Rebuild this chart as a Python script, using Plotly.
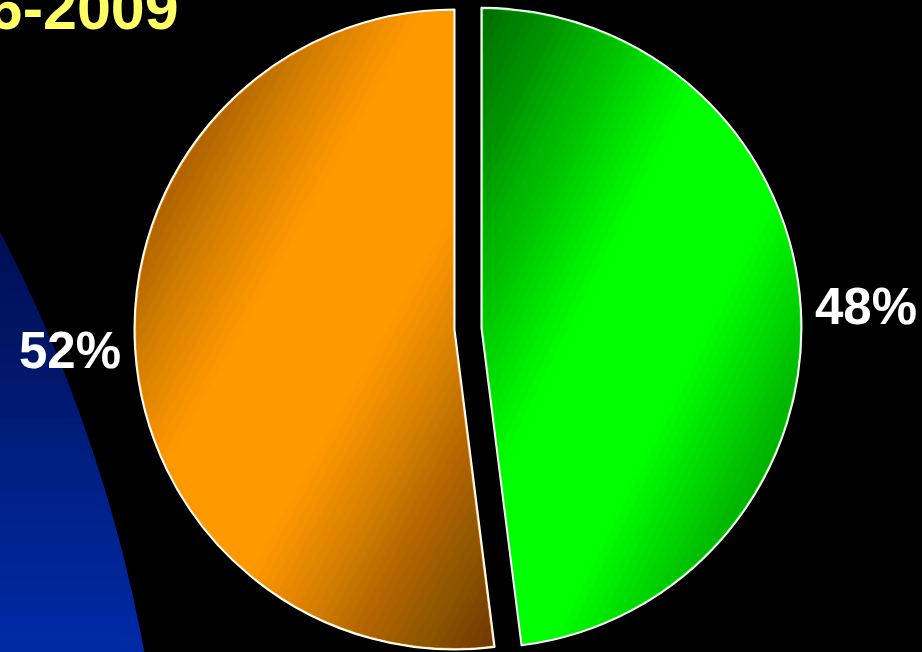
import math
import numpy as np
import plotly.graph_objects as go

# ---- data -------------------------------------------------------------
LABELS = ["Segment 1", "Segment 2"]
VALUES = [48, 52]
SLICE_COLORS = ["#00FF00", "#FF9900"]
TITLE_TEXT = "2006-2009"

# ---- canvas / geometry (pixels) --------------------------------------
W, H = 922, 652
R_PX = 320                    # pie radius
CENTER_PX = (454.5, 329.5)    # pie centre
PULL_PX = [27, 0]             # how far each slice is pulled out
EDGE_W = 2
LABEL_GAP = 13                # distance of the percentage labels from the rim
LABEL_FONT = "Liberation Sans, Arial, sans-serif"
LABEL_SIZE = 51


def to_paper(x, y):
    return x / W, 1 - y / H


def path_from(points):
    parts = []
    for i, (x, y) in enumerate(points):
        px, py = to_paper(x, y)
        parts.append(("M" if i == 0 else "L") + f"{px:.5f},{py:.5f}")
    return " ".join(parts) + " Z"


def clip(poly, fn):
    """Sutherland-Hodgman clip of a polygon against the half-plane fn >= 0."""
    out = []
    n = len(poly)
    for i in range(n):
        p, q = poly[i], poly[(i + 1) % n]
        fp, fq = fn(p), fn(q)
        if fp >= 0:
            out.append(p)
        if (fp >= 0) != (fq >= 0):
            t = fp / (fp - fq)
            out.append((p[0] + t * (q[0] - p[0]), p[1] + t * (q[1] - p[1])))
    return out


def on_circle(cx, cy, r, a_deg):
    # angle measured clockwise from 12 o'clock, screen coordinates
    a = math.radians(a_deg)
    return (cx + r * math.sin(a), cy - r * math.cos(a))


# slice angles, clockwise from 12 o'clock
total = float(sum(VALUES))
starts, ends = [], []
acc = 0.0
for v in VALUES:
    starts.append(360 * acc)
    acc += v / total
    ends.append(360 * acc)

# centre of every slice after pulling it out along its bisector
slice_centres = []
for a0, a1, pull in zip(starts, ends, PULL_PX):
    slice_centres.append(on_circle(CENTER_PX[0], CENTER_PX[1], pull, (a0 + a1) / 2))

fig = go.Figure()

# one pie trace per slice so a pulled slice keeps the full radius
for i, (cx, cy) in enumerate(slice_centres):
    colors = ["rgba(0,0,0,0)"] * len(VALUES)
    lcolors = ["rgba(0,0,0,0)"] * len(VALUES)
    lwidths = [0] * len(VALUES)
    colors[i] = SLICE_COLORS[i]
    lcolors[i] = "white"
    lwidths[i] = EDGE_W
    fig.add_trace(go.Pie(
        labels=LABELS, values=VALUES, sort=False,
        direction="clockwise", rotation=0,
        marker=dict(colors=colors, line=dict(color=lcolors, width=lwidths)),
        textinfo="none",
        domain=dict(x=[(cx - R_PX) / W, (cx + R_PX) / W],
                    y=[1 - (cy + R_PX) / H, 1 - (cy - R_PX) / H]),
        showlegend=False, hoverinfo="skip",
    ))

shapes = []
annotations = []

# percentage labels just outside the rim, on each slice's bisector
for (cx, cy), a0, a1, v in zip(slice_centres, starts, ends, VALUES):
    mid = (a0 + a1) / 2
    lx, ly = on_circle(cx, cy, R_PX + LABEL_GAP, mid)
    px, py = to_paper(lx, ly)
    annotations.append(dict(
        text=f"{v}%", xref="paper", yref="paper", x=px, y=py,
        xanchor="left" if math.sin(math.radians(mid)) > 0 else "right",
        yanchor="middle", showarrow=False, borderpad=0,
        font=dict(family=LABEL_FONT, size=LABEL_SIZE, color="white", weight="bold")))

# ---- large blue disc on the left, darker towards the top -------------
BLUE_C = (-1331.0, 923.0)
BLUE_R = 1500.0
x0, y1 = to_paper(BLUE_C[0] - BLUE_R, BLUE_C[1] - BLUE_R)
x1, y0 = to_paper(BLUE_C[0] + BLUE_R, BLUE_C[1] + BLUE_R)
shapes.append(dict(type="circle", xref="paper", yref="paper",
                   x0=x0, x1=x1, y0=y0, y1=y1,
                   fillcolor="#002AA8", line=dict(width=0), layer="below"))

NB = 24
ytop, ybot = 220.0, 652.0
def blue_factor(y):
    return 0.52 + 0.48 * min(max((y - ytop) / (ybot - ytop), 0), 1)
cuts = [ytop + (ybot - ytop) * k / NB for k in range(1, NB + 1)]
F = [blue_factor(ytop + (ybot - ytop) * (k - 0.5) / NB) for k in range(1, NB + 1)] + [1.0]
for k in range(NB):
    a = 1 - F[k] / F[k + 1]
    if a <= 0:
        continue
    _, yb = to_paper(0, cuts[k])
    shapes.append(dict(type="rect", xref="paper", yref="paper",
                       x0=-0.05, x1=0.3, y0=yb, y1=1.05,
                       fillcolor=f"rgba(0,0,0,{a:.4f})", line=dict(width=0),
                       layer="below"))

# ---- diagonal shading on every slice (dark top-left & bottom-right) --
DARK_MIN = 0.45
NS = 30
INSET = 1.6
for (cx, cy), a0, a1 in zip(slice_centres, starts, ends):
    full = [(cx, cy)] + [on_circle(cx, cy, R_PX, t) for t in np.linspace(a0, a1, 240)]
    xs = [p[0] for p in full]
    ys = [p[1] for p in full]
    bx0, bx1, by0, by1 = min(xs), max(xs), min(ys), max(ys)

    half = math.radians(a1 - a0) / 2
    apex = on_circle(cx, cy, INSET / math.sin(half), (a0 + a1) / 2)
    delta = math.degrees(math.asin(INSET / R_PX))
    poly = [apex] + [on_circle(cx, cy, R_PX - INSET, t)
                     for t in np.linspace(a0 + delta, a1 - delta, 240)]

    def u(p, bx0=bx0, bx1=bx1, by0=by0, by1=by1):
        return (p[0] - bx0) / (bx1 - bx0) + (p[1] - by0) / (by1 - by0)

    thr = [0.8 * k / NS for k in range(1, NS + 1)]
    Fs = [1 - (1 - DARK_MIN) * (0.8 - 0.8 * (k - 0.5) / NS) / 0.8 for k in range(1, NS + 1)] + [1.0]
    for k in range(NS):
        a = 1 - Fs[k] / Fs[k + 1]
        t = thr[k]
        for fn in (lambda p, t=t: t - u(p), lambda p, t=t: u(p) - (2 - t)):
            piece = clip(poly, fn)
            if len(piece) < 3:
                continue
            shapes.append(dict(type="path", xref="paper", yref="paper",
                               path=path_from(piece),
                               fillcolor=f"rgba(0,0,0,{a:.4f})",
                               line=dict(width=0), layer="above"))

# ---- title (runs off the top-left edge) ------------------------------
tx, ty = to_paper(181, 44)
annotations.append(dict(text=TITLE_TEXT, xref="paper", yref="paper", x=tx, y=ty,
                        xanchor="right", yanchor="bottom", showarrow=False,
                        font=dict(family="Liberation Sans, Arial, sans-serif", size=61,
                                  color="#FFFF66", weight="bold")))

fig.update_layout(
    width=W, height=H,
    margin=dict(l=0, r=0, t=0, b=0),
    paper_bgcolor="black", plot_bgcolor="black",
    shapes=shapes, annotations=annotations,
)

fig.write_html("out.html")
